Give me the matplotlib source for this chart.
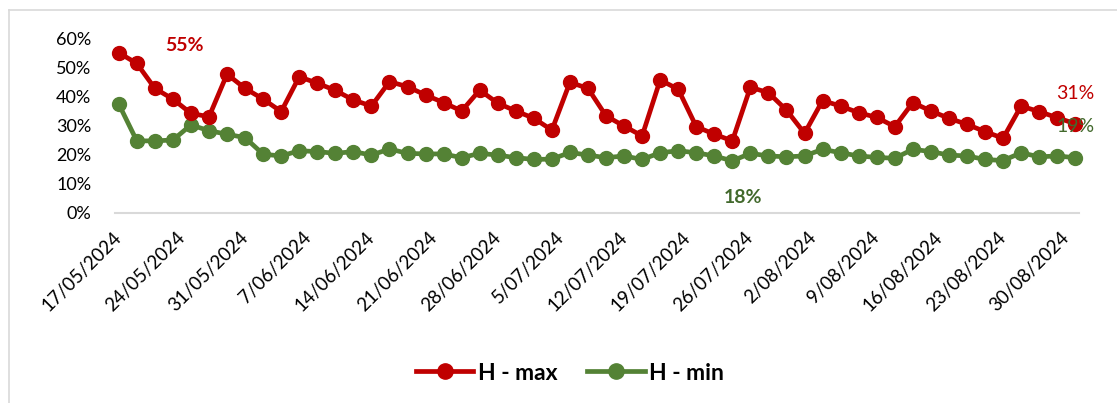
#!/usr/bin/env python3
"""
Daily humidity max / min line chart (17/05/2024 - 30/08/2024).
"""

import matplotlib.pyplot as plt
import pandas as pd
from matplotlib.lines import Line2D

plt.rcParams["font.family"] = ["Lato", "DejaVu Sans"]

RED = "#C00000"
GREEN = "#548235"
GREEN_TXT = "#42692C"

# one reading every two days
dates = pd.date_range("2024-05-17", periods=54, freq="2D")

h_max = [55.1, 51.4, 42.8, 39.1, 34.2, 33.0, 47.7, 42.8, 39.1, 34.8,
         46.8, 44.6, 42.1, 38.8, 36.7, 45.1, 43.4, 40.5, 37.9, 35.0,
         42.2, 37.7, 35.0, 32.5, 28.4, 44.9, 42.8, 33.3, 29.8, 26.4,
         45.7, 42.5, 29.6, 27.0, 24.7, 43.2, 41.3, 35.3, 27.3, 38.6,
         36.7, 34.4, 32.8, 29.6, 37.9, 35.0, 32.5, 30.4, 27.9, 25.6,
         36.7, 34.8, 32.7, 30.6]

h_min = [37.4, 24.7, 24.7, 25.0, 30.2, 28.2, 27.0, 25.8, 20.1, 19.5,
         21.3, 21.0, 20.4, 21.0, 19.8, 21.9, 20.4, 20.2, 20.2, 18.9,
         20.4, 19.8, 18.9, 18.3, 18.4, 20.7, 19.8, 18.9, 19.5, 18.3,
         20.6, 21.3, 20.6, 19.5, 17.8, 20.4, 19.5, 19.2, 19.5, 21.8,
         20.6, 19.5, 19.0, 18.7, 21.8, 21.0, 19.8, 19.5, 18.3, 17.9,
         20.6, 19.2, 19.5, 18.9]

tick_dates = pd.date_range("2024-05-17", "2024-08-30", freq="7D")
tick_labels = ["17/05/2024", "24/05/2024", "31/05/2024", "7/06/2024",
               "14/06/2024", "21/06/2024", "28/06/2024", "5/07/2024",
               "12/07/2024", "19/07/2024", "26/07/2024", "2/08/2024",
               "9/08/2024", "16/08/2024", "23/08/2024", "30/08/2024"]

y_ticks = [0, 10, 20, 30, 40, 50, 60]


def main() -> None:
    W, H = 1117, 403
    fig = plt.figure(figsize=(W / 100, H / 100), dpi=100)
    ax = fig.add_axes([115 / W, 1 - 212.5 / H, 964 / W, 174 / H])

    frac_max = [v / 100 for v in h_max]
    frac_min = [v / 100 for v in h_min]

    ax.plot(dates, frac_max, color=RED, lw=3.4, marker="o", ms=10,
            label="H - max", clip_on=False, zorder=3)
    ax.plot(dates, frac_min, color=GREEN, lw=3.4, marker="o", ms=10,
            label="H - min", clip_on=False, zorder=2)

    pad = pd.Timedelta(hours=10)
    ax.set_xlim(dates[0] - pad, dates[-1] + pad)
    ax.set_ylim(0, 0.60)

    ax.set_yticks([t / 100 for t in y_ticks])
    ax.set_yticklabels([f"{t}%" for t in y_ticks], fontsize=13)
    ax.set_xticks(tick_dates)
    ax.set_xticklabels(tick_labels, fontsize=13.5, rotation=45,
                       ha="right", va="center", rotation_mode="anchor")
    ax.tick_params(axis="both", length=0, colors="#000000")
    ax.tick_params(axis="y", pad=17)
    ax.tick_params(axis="x", pad=16)

    for side in ("top", "right", "left"):
        ax.spines[side].set_visible(False)
    ax.spines["bottom"].set_color("#D9D9D9")
    ax.spines["bottom"].set_linewidth(1.5)

    # data labels (highest max, lowest min, last values)
    i_max = h_max.index(max(h_max))
    i_min = h_min.index(min(h_min))
    ax.text(0.072, 0.96, f"{h_max[i_max]:.0f}%", transform=ax.transAxes,
            color=RED, fontsize=14, fontweight="bold", ha="center", va="center")
    ax.text(0.651, 0.085, f"{h_min[i_min]:.0f}%", transform=ax.transAxes,
            color=GREEN_TXT, fontsize=14, fontweight="bold", ha="center", va="center")
    ax.text(0.996, 0.685, f"{h_max[-1]:.0f}%", transform=ax.transAxes,
            color=RED, fontsize=14, ha="center", va="center")
    ax.text(0.996, 0.495, f"{h_min[-1]:.0f}%", transform=ax.transAxes,
            color=GREEN_TXT, fontsize=14, ha="center", va="center")

    leg = fig.legend(loc="center", bbox_to_anchor=(570 / W, 1 - 373 / H), ncol=2,
                     frameon=False, handlelength=2.5, columnspacing=1.3,
                     handletextpad=0.2, prop={"size": 16.5, "weight": "bold"})
    for line in leg.get_lines():
        line.set_markersize(11)

    # chart area border (left and top visible)
    border = dict(color="#D9D9D9", lw=1.2, transform=fig.transFigure)
    fig.add_artist(Line2D([8.5 / W, 8.5 / W], [0, 1 - 10 / H], **border))
    fig.add_artist(Line2D([8.5 / W, 1], [1 - 10 / H, 1 - 10 / H], **border))

    fig.savefig("out.png", dpi=100)
    plt.close(fig)


if __name__ == "__main__":
    main()
